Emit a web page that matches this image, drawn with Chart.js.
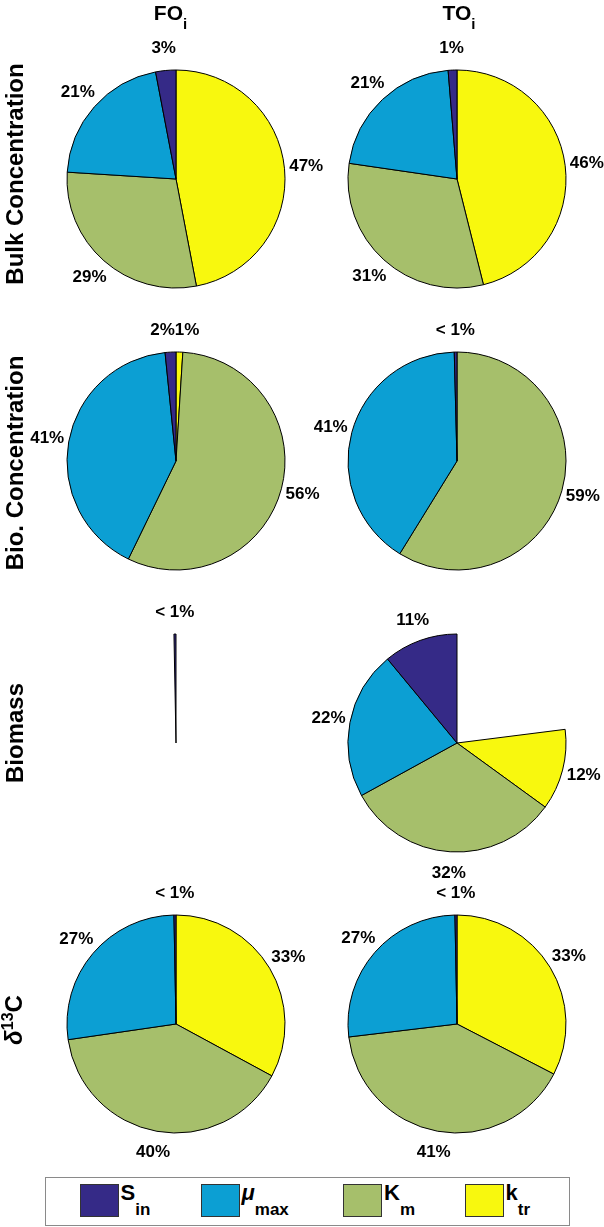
<!DOCTYPE html>
<html>
<head>
<meta charset="utf-8">
<script src="https://cdn.jsdelivr.net/npm/chart.js@4.4.0/dist/chart.umd.min.js"></script>
<style>
  html, body { margin: 0; padding: 0; background: #fff; }
  body {
    width: 604px; height: 1227px; position: relative; overflow: hidden;
    font-family: "Liberation Sans", Arial, sans-serif; font-weight: bold; color: #000;
  }
  .pie { position: absolute; width: 300px; height: 300px; }
  .col-title {
    position: absolute; top: 2px; font-size: 21px; line-height: 21px;
    white-space: nowrap; transform: translateX(-50%);
  }
  .col-title span { font-size: 15px; position: relative; top: 9px; }
  .row-title {
    position: absolute; font-size: 24px; line-height: 24px; white-space: nowrap;
    transform: translate(-50%, -50%) rotate(-90deg);
  }
  .row-title sup { font-size: 16px; vertical-align: baseline; position: relative; top: -9px; }
  #legend {
    position: absolute; left: 45px; top: 1177px; width: 525px; height: 49px;
    border: 1px solid #8a8a8a; box-sizing: border-box;
  }
  .item { position: absolute; top: 6px; height: 33px; }
  .swatch {
    position: absolute; left: 0; top: 0; width: 39px; height: 33px;
    border: 1px solid #333; box-sizing: border-box;
  }
  .sym {
    position: absolute; left: 41px; top: -2px; font-size: 22px; line-height: 22px; white-space: nowrap;
  }
  .sym span { font-size: 17px; position: relative; top: 15px; }
</style>
</head>
<body>
<script>
// legend categories (S_in, mu_max, K_m, k_tr)
const paramNames = ["S_in", "μ_max", "K_m", "k_tr"];
const paramSymbols = ["S", "μ", "K", "k"];
const paramSubs = ["in", "max", "m", "tr"];
const paramColors = ["#352A87", "#0C9FD3", "#A6BF6B", "#F8F80E"];

const columnNames = ["FO", "TO"];
const rowNames = ["Bulk Concentration", "Bio. Concentration", "Biomass", "δ13C"];

// shares in %, order S_in, mu_max, K_m, k_tr
// (a set that sums below 100 is drawn as a partial pie, as in matlab)
const bulkFO = [3, 21, 29, 47];
const bulkTO = [1.3, 21.4, 31.2, 46.1];
const bioFO = [1.6, 41.2, 56.2, 1.0];
const bioTO = [0.4, 40.8, 58.8, 0];
const biomassFO = [0.3, 0, 0, 0];
const biomassTO = [11, 22, 32, 12];
const d13cFO = [0.3, 27.0, 39.8, 32.9];
const d13cTO = [0.3, 26.6, 40.5, 32.6];

const pieRows = [
  [bulkFO, bulkTO],
  [bioFO, bioTO],
  [biomassFO, biomassTO],
  [d13cFO, d13cTO],
];

// layout
const colX = [175.5, 457.3];
const rowY = [178.6, 460.5, 742.7, 1024.2];
const colTitleX = [170.5, 459];
const rowTitleY = [173.5, 463, 732.5, 1020];
const legendLeft = [33.5, 154.5, 297, 418.5];
const pieSize = 300;
const pieRadius = 109;

function pctLabel(p) {
  if (p < 1) return "< 1%";
  return Math.round(p) + "%";
}

// matlab-style labels: centred at 1.2 x radius on the slice mid angle
function labelPlugin(texts) {
  return {
    id: "pctLabels",
    afterDatasetsDraw(chart) {
      const ctx = chart.ctx;
      const arcs = chart.getDatasetMeta(0).data;
      ctx.save();
      ctx.font = "bold 17px 'Liberation Sans', Arial, sans-serif";
      ctx.fillStyle = "#000";
      ctx.textAlign = "center";
      ctx.textBaseline = "middle";
      const items = [];
      arcs.forEach((arc, i) => {
        if (!texts[i]) return;
        const { x, y, startAngle, endAngle, outerRadius } = arc.getProps(
          ["x", "y", "startAngle", "endAngle", "outerRadius"],
          true,
        );
        const mid = (startAngle + endAngle) / 2;
        items.push({
          x: x + 1.2 * outerRadius * Math.cos(mid),
          y: y + 1.2 * outerRadius * Math.sin(mid),
          w: ctx.measureText(texts[i]).width,
          text: texts[i],
        });
      });
      // push apart labels that would sit on top of each other
      for (let i = 0; i < items.length; i++) {
        for (let j = i + 1; j < items.length; j++) {
          const a = items[i];
          const b = items[j];
          const need = (a.w + b.w) / 2;
          if (Math.abs(a.y - b.y) < 14 && Math.abs(a.x - b.x) < need) {
            const mid = (a.x + b.x) / 2;
            const [l, r] = a.x < b.x ? [a, b] : [b, a];
            l.x = mid - need / 2;
            r.x = mid + need / 2;
          }
        }
      }
      items.forEach((it) => ctx.fillText(it.text, it.x, it.y));
      ctx.restore();
    },
  };
}

function makePie(canvas, values) {
  const total = values.reduce((a, b) => a + b, 0);
  const partial = total < 99.5;
  // matlab runs counter-clockwise from 12 o'clock, chart.js clockwise: reverse
  const idx = [3, 2, 1, 0].filter((i) => values[i] > 0);
  const data = idx.map((i) => values[i]);
  const colors = idx.map((i) => paramColors[i]);
  const borders = idx.map(() => 1);
  const names = idx.map((i) => paramNames[i]);
  const texts = idx.map((i) => pctLabel(partial ? values[i] : (values[i] / total) * 100));
  if (partial) {
    data.unshift(100 - total);
    colors.unshift("rgba(0,0,0,0)");
    borders.unshift(0);
    names.unshift("");
    texts.unshift(null);
  }
  new Chart(canvas, {
    type: "pie",
    data: {
      labels: names,
      datasets: [
        {
          data: data,
          backgroundColor: colors,
          borderColor: "#000",
          borderWidth: borders,
        },
      ],
    },
    options: {
      responsive: false,
      animation: false,
      layout: { padding: pieSize / 2 - pieRadius - 0.5 },
      plugins: { legend: { display: false }, tooltip: { enabled: false } },
    },
    plugins: [labelPlugin(texts)],
  });
}

// pies
pieRows.forEach((row, r) => {
  row.forEach((values, c) => {
    const canvas = document.createElement("canvas");
    canvas.className = "pie";
    canvas.width = pieSize;
    canvas.height = pieSize;
    canvas.style.left = colX[c] - pieSize / 2 + "px";
    canvas.style.top = rowY[r] - pieSize / 2 + "px";
    document.body.appendChild(canvas);
    makePie(canvas, values);
  });
});

// column titles
columnNames.forEach((name, c) => {
  const d = document.createElement("div");
  d.className = "col-title";
  d.style.left = colTitleX[c] + "px";
  d.innerHTML = name + "<span>i</span>";
  document.body.appendChild(d);
});

// row titles
rowNames.forEach((name, r) => {
  const d = document.createElement("div");
  d.className = "row-title";
  d.style.left = "15px";
  d.style.top = rowTitleY[r] + "px";
  if (name.startsWith("δ")) {
    d.innerHTML = "<i>δ</i><sup>" + name.slice(1, 3) + "</sup>" + name.slice(3);
  } else {
    d.textContent = name;
  }
  document.body.appendChild(d);
});

// legend
const legend = document.createElement("div");
legend.id = "legend";
paramSymbols.forEach((sym, i) => {
  const item = document.createElement("div");
  item.className = "item";
  item.style.left = legendLeft[i] + "px";
  const sw = document.createElement("div");
  sw.className = "swatch";
  sw.style.background = paramColors[i];
  const t = document.createElement("div");
  t.className = "sym";
  const greek = /[α-ω]/.test(sym);
  t.innerHTML = (greek ? "<i>" + sym + "</i>" : sym) + "<span>" + paramSubs[i] + "</span>";
  item.appendChild(sw);
  item.appendChild(t);
  legend.appendChild(item);
});
document.body.appendChild(legend);
</script>
</body>
</html>
